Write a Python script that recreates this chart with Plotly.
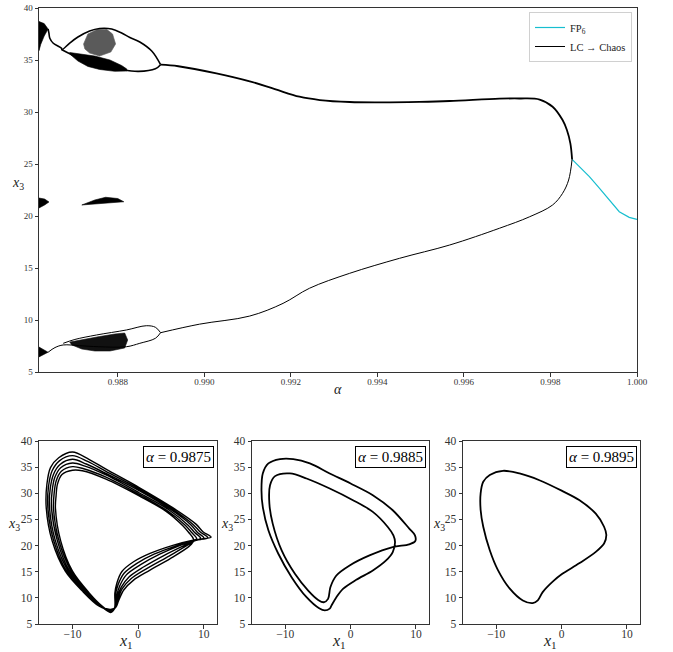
import plotly.graph_objects as go

# ---------------- data: bifurcation diagram (alpha, x3) ----------------
fp6_alpha = [0.99850, 0.99869, 0.99890, 0.99910, 0.99929, 0.99945, 0.99959, 0.99982, 1.00000]
fp6_x3 = [25.45, 24.68, 23.78, 22.82, 21.86, 21.06, 20.41, 19.87, 19.68]

lc_upper = [(0.98899, 34.55), (0.98940, 34.40), (0.99028, 33.72), (0.99105, 32.95), (0.99163, 32.20),
            (0.99220, 31.47), (0.99267, 31.15), (0.99336, 30.96), (0.99412, 30.93), (0.99497, 30.98),
            (0.99567, 31.06), (0.99682, 31.28), (0.99728, 31.30), (0.99775, 31.20), (0.99805, 30.51),
            (0.99828, 29.23), (0.99838, 28.27), (0.99846, 26.99), (0.99850, 25.45)]
lc_lower = [(0.99850, 25.45), (0.99842, 23.46), (0.99828, 22.18), (0.99805, 21.06), (0.99752, 19.93),
            (0.99682, 18.82), (0.99567, 17.21), (0.99451, 15.93), (0.99336, 14.49), (0.99243, 13.05),
            (0.99182, 11.60), (0.99105, 10.38), (0.98989, 9.60), (0.98899, 8.78)]

# period-2 loop, upper region (with connector to the left wedge)
p2_top_upper = [(0.98639, 37.98), (0.98641, 37.57), (0.98643, 37.09), (0.98651, 36.61), (0.98670, 36.13),
                (0.98671, 35.99), (0.98689, 36.63), (0.98708, 37.21), (0.98735, 37.79), (0.98758, 38.03),
                (0.98786, 37.98), (0.98809, 37.60), (0.98828, 37.16), (0.98851, 36.73), (0.98879, 35.84),
                (0.98899, 34.55)]
p2_top_lower = [(0.98671, 35.99), (0.98694, 35.51), (0.98741, 34.71), (0.98810, 34.07), (0.98848, 33.91),
                (0.98887, 34.16), (0.98899, 34.55)]
# period-2 loop, lower region
p2_bot_upper = [(0.98899, 8.78), (0.98887, 9.30), (0.98866, 9.45), (0.98820, 9.04), (0.98751, 8.56),
                (0.98701, 8.13), (0.98674, 7.76)]
p2_bot_lower = [(0.98899, 8.78), (0.98887, 8.24), (0.98851, 7.76), (0.98820, 7.43), (0.98756, 7.43),
                (0.98712, 7.53), (0.98674, 7.60), (0.98655, 7.35), (0.98639, 6.90)]

# chaotic bands (outlines)
band_wedge_top = [(0.98618, 38.70), (0.98630, 38.50), (0.98639, 37.98), (0.98630, 37.30), (0.98622, 36.50), (0.98618, 35.90)]
band_grey_top = [(0.98721, 36.54), (0.98731, 37.50), (0.98752, 37.93), (0.98775, 37.93), (0.98788, 37.50),
                 (0.98795, 36.54), (0.98784, 35.77), (0.98758, 35.38), (0.98735, 35.67), (0.98724, 36.06)]
band_top_lower = [(0.98689, 35.72), (0.98717, 35.53), (0.98747, 35.38), (0.98782, 35.00), (0.98809, 34.47),
                  (0.98821, 34.13), (0.98821, 33.94), (0.98793, 33.91), (0.98758, 34.09), (0.98731, 34.38),
                  (0.98708, 34.90), (0.98689, 35.58)]
band_mid_left = [(0.98618, 21.73), (0.98631, 21.63), (0.98641, 21.35), (0.98631, 21.06), (0.98618, 20.77)]
band_mid_spindle = [(0.98717, 21.06), (0.98747, 21.54), (0.98772, 21.80), (0.98800, 21.68), (0.98814, 21.37),
                    (0.98770, 21.25)]
band_wedge_bot = [(0.98618, 7.40), (0.98639, 6.90), (0.98618, 6.45)]
band_bot = [(0.98689, 7.88), (0.98724, 8.17), (0.98758, 8.41), (0.98793, 8.65), (0.98816, 8.75), (0.98823, 8.08),
            (0.98816, 7.31), (0.98782, 7.02), (0.98747, 7.02), (0.98717, 7.21), (0.98694, 7.60)]

alpha_ticks = [0.988, 0.990, 0.992, 0.994, 0.996, 0.998, 1.000]
alpha_tick_text = ["0.988", "0.990", "0.992", "0.994", "0.996", "0.998", "1.000"]
x3_ticks = [5, 10, 15, 20, 25, 30, 35, 40]
x1_ticks = [-10, 0, 10]
x1_tick_text = ["\u221210", "0", "10"]

# ---------------- data: phase portraits (x1, x3) ----------------
chaos_f00 = [(-4.2, 7.8), (-3.4, 8.2), (-3.0, 9.4), (-2.2, 11.5), (-0.7, 13.4), (1.8, 15.3), (5.4, 17.9), (7.7, 19.8),
             (8.3, 20.6), (8.4, 21.3), (7.7, 22.5), (6.8, 23.8), (4.2, 26.6), (0.15, 29.5), (-4.9, 32.7), (-8.5, 34.3),
             (-10.0, 34.4), (-11.6, 33.6), (-12.3, 31.7), (-12.5, 29.5), (-12.6, 27.25), (-11.8, 20.9), (-10.0, 15.1),
             (-7.5, 11.0), (-5.5, 8.45)]
chaos_f02 = [(-4.2, 7.7), (-3.45, 8.15), (-3.1, 9.7), (-2.4, 11.8), (-1.05, 13.7), (1.3, 15.6), (4.7, 18.0), (7.2, 19.85),
             (8.35, 20.7), (8.9, 21.35), (8.15, 22.5), (7.2, 23.85), (4.4, 26.7), (0.15, 29.8), (-4.9, 33.1), (-8.3, 34.7),
             (-10.0, 35.1), (-11.7, 34.2), (-12.5, 32.3), (-12.8, 29.9), (-12.9, 27.25), (-12.05, 20.9), (-10.2, 15.1),
             (-7.7, 11.05), (-5.6, 8.45)]
chaos_f04 = [(-4.2, 7.55), (-3.5, 8.1), (-3.2, 10.0), (-2.6, 12.0), (-1.4, 14.0), (0.8, 15.9), (3.9, 18.1), (6.8, 19.9),
             (8.4, 20.8), (9.5, 21.4), (8.6, 22.5), (7.6, 23.9), (4.6, 26.9), (0.15, 30.1), (-4.9, 33.5), (-8.1, 35.2),
             (-10.0, 35.8), (-11.8, 34.9), (-12.7, 33.0), (-13.1, 30.4), (-13.2, 27.25), (-12.3, 20.9), (-10.45, 15.1),
             (-7.9, 11.1), (-5.7, 8.45)]
chaos_f06 = [(-4.2, 7.45), (-3.5, 8.1), (-3.3, 10.3), (-2.8, 12.3), (-1.8, 14.4), (0.3, 16.3), (3.2, 18.3), (6.3, 20.0),
             (8.45, 20.9), (10.0, 21.45), (9.0, 22.55), (8.0, 24.0), (4.85, 27.0), (0.15, 30.5), (-4.9, 33.8), (-7.9, 35.6),
             (-10.0, 36.5), (-11.9, 35.5), (-12.9, 33.6), (-13.4, 30.8), (-13.5, 27.25), (-12.6, 20.9), (-10.65, 15.1),
             (-8.1, 11.2), (-5.8, 8.45)]
chaos_f08 = [(-4.2, 7.3), (-3.55, 8.05), (-3.45, 10.6), (-3.05, 12.55), (-2.15, 14.7), (-0.2, 16.6), (2.5, 18.4), (5.9, 20.0),
             (8.5, 21.0), (10.6, 21.5), (9.45, 22.6), (8.4, 24.0), (5.05, 27.1), (0.15, 30.8), (-4.9, 34.2), (-7.7, 36.1),
             (-10.0, 37.2), (-12.0, 36.2), (-13.1, 34.3), (-13.65, 31.3), (-13.75, 27.25), (-12.85, 20.9), (-10.9, 15.1),
             (-8.3, 11.25), (-5.9, 8.45)]
chaos_f10 = [(-4.2, 7.2), (-3.6, 8.0), (-3.55, 10.9), (-3.25, 12.8), (-2.5, 15.0), (-0.7, 16.9), (1.8, 18.5), (5.4, 20.1),
             (8.5, 21.1), (11.1, 21.6), (9.9, 22.6), (8.8, 24.1), (5.25, 27.25), (0.15, 31.1), (-4.9, 34.6), (-7.5, 36.5),
             (-10.0, 37.9), (-12.1, 36.8), (-13.35, 34.9), (-13.9, 31.7), (-14.0, 27.25), (-13.1, 20.9), (-11.1, 15.1),
             (-8.5, 11.3), (-6.0, 8.45)]
chaos_order = [chaos_f04, chaos_f10, chaos_f02, chaos_f08, chaos_f00, chaos_f06]

period2_orbit = [(-3.96, 7.6), (-3.2, 7.95), (-2.94, 8.52), (-2.18, 10.12), (-1.17, 11.72), (0.86, 13.45), (3.40, 15.24),
                 (5.43, 17.16), (6.45, 18.76), (6.80, 20.68), (6.55, 21.96), (5.69, 23.56), (3.40, 26.44), (0.36, 28.68),
                 (-3.2, 30.91), (-6.75, 32.83), (-9.29, 33.79), (-11.57, 33.28), (-12.34, 31.55), (-12.44, 28.04),
                 (-11.93, 24.2), (-10.56, 19.08), (-8.53, 14.6), (-6.5, 11.4), (-4.97, 9.61), (-4.11, 9.16), (-3.45, 9.8),
                 (-3.1, 12.04), (-2.18, 14.28), (-0.15, 16.2), (2.89, 18.12), (6.45, 19.72), (8.98, 20.23), (9.9, 20.87),
                 (9.85, 21.96), (8.98, 23.24), (6.45, 26.76), (3.40, 29.64), (0.0, 31.87), (-3.2, 33.79), (-6.24, 35.71),
                 (-8.78, 36.55), (-10.81, 36.55), (-12.59, 35.71), (-13.45, 33.79), (-13.65, 30.6), (-13.45, 27.4),
                 (-12.59, 22.92), (-11.07, 18.44), (-9.04, 13.96), (-6.75, 10.12), (-4.82, 8.0), (-3.96, 7.6)]

period1_orbit = [(-8.98, 34.3), (-11.0, 33.5), (-12.0, 32.2), (-12.4, 30.0), (-12.4, 26.8), (-12.0, 23.6), (-11.0, 19.1),
                 (-9.75, 15.3), (-7.97, 11.8), (-5.94, 9.5), (-4.42, 9.0), (-3.65, 9.5), (-2.9, 11.1), (-1.37, 13.1),
                 (0.0, 14.5), (2.69, 16.6), (5.23, 18.8), (6.5, 20.4), (6.85, 22.0), (6.5, 23.6), (5.23, 26.1),
                 (2.69, 28.7), (0.0, 30.5), (-3.4, 32.5), (-6.45, 33.8), (-8.98, 34.3)]

panel_labels = ["0.9875", "0.9885", "0.9895"]

# ---------------- figure ----------------
W, H = 673, 652
FONT = "Liberation Serif"
TXT = "#222222"


def xs(pts):
    return [p[0] for p in pts]


def ys(pts):
    return [p[1] for p in pts]


fig = go.Figure()

fig.add_trace(go.Scatter(x=fp6_alpha, y=fp6_x3, mode="lines", name="FP<sub>6</sub>",
                         line=dict(color="#17becf", width=1.2), xaxis="x", yaxis="y"))
# legend-only entry for the LC branch (thin line sample as in the reference legend)
fig.add_trace(go.Scatter(x=[None], y=[None], mode="lines", name="LC \u2192 Chaos",
                         line=dict(color="black", width=1.0), xaxis="x", yaxis="y"))

for poly, col in [(band_wedge_top, "black"), (band_grey_top, "#5a5a5a"), (band_top_lower, "black"),
                  (band_mid_left, "black"), (band_mid_spindle, "black"), (band_wedge_bot, "black"),
                  (band_bot, "#111111")]:
    fig.add_trace(go.Scatter(x=xs(poly) + [poly[0][0]], y=ys(poly) + [poly[0][1]], mode="lines",
                             fill="toself", fillcolor=col, line=dict(color=col, width=0.6),
                             showlegend=False, hoverinfo="skip", xaxis="x", yaxis="y"))

for seg, wd in [(lc_upper, 1.8), (lc_lower, 1.0), (p2_top_upper, 1.6), (p2_top_lower, 1.6),
                (p2_bot_upper, 1.0), (p2_bot_lower, 1.0)]:
    fig.add_trace(go.Scatter(x=xs(seg), y=ys(seg), mode="lines", showlegend=False,
                             line=dict(color="black", width=wd, shape="spline"), xaxis="x", yaxis="y"))

chaos_path = [p for loop in chaos_order for p in loop] + [chaos_order[0][0]]
for pts, ax, wd in [(chaos_path, "2", 1.4), (period2_orbit, "3", 1.8), (period1_orbit, "4", 1.8)]:
    fig.add_trace(go.Scatter(x=xs(pts), y=ys(pts), mode="lines", showlegend=False,
                             line=dict(color="black", width=wd, shape="spline", smoothing=0.9),
                             xaxis="x" + ax, yaxis="y" + ax))


def dom_x(a, b):
    return [a / W, b / W]


def dom_y(top, bottom):
    return [1 - bottom / H, 1 - top / H]


axis_common = dict(showline=True, mirror=True, linecolor="#333333", linewidth=1, showgrid=False,
                   zeroline=False, ticks="outside", ticklen=3.5, tickwidth=0.8, tickcolor="#333333",
                   automargin=False)

fig.update_layout(
    width=W, height=H, margin=dict(l=0, r=0, t=0, b=0, pad=0, autoexpand=False),
    paper_bgcolor="white", plot_bgcolor="white",
    font=dict(family=FONT, color=TXT),
    xaxis=dict(domain=dom_x(39, 637), range=[0.98618, 1.0], tickvals=alpha_ticks, ticktext=alpha_tick_text,
               tickfont=dict(size=9, color="#333333"), anchor="y", ticklabelstandoff=-2, **axis_common),
    yaxis=dict(domain=dom_y(8, 372), range=[5, 40], tickvals=x3_ticks,
               tickfont=dict(size=9, color="#333333"), anchor="x", **axis_common),
    legend=dict(x=632 / W, y=1 - 12 / H, xanchor="right", yanchor="top", bgcolor="white",
                bordercolor="#d0d0d0", borderwidth=1, font=dict(size=10.5, family=FONT, color=TXT),
                itemwidth=30, tracegroupgap=0),
)

panels = [("2", 39, 217), ("3", 252, 429), ("4", 463, 640)]
for ax, a, b in panels:
    fig.update_layout({
        "xaxis" + ax: dict(domain=dom_x(a, b), range=[-15.1, 12.0], tickvals=x1_ticks, ticktext=x1_tick_text,
                           tickfont=dict(size=11.5, color="#333333"), anchor="y" + ax, ticklabelstandoff=-4,
                           **axis_common),
        "yaxis" + ax: dict(domain=dom_y(441, 624), range=[5, 40], tickvals=x3_ticks,
                           tickfont=dict(size=11.5, color="#333333"), anchor="x" + ax, **axis_common),
    })


def label(text, px, py, size):
    return dict(text=text, x=px / W, y=1 - py / H, xref="paper", yref="paper", showarrow=False,
                xanchor="center", yanchor="middle", font=dict(size=size, family=FONT, color=TXT))


ann = [label("<i>α</i>", 338, 389, 14), label("<i>x</i><sub>3</sub>", 18, 184, 14)]
for (ax, a, b), lab, ylx in zip(panels, panel_labels, [14, 227, 439]):
    ann.append(dict(text="<i>α</i> = " + lab, xref="x" + ax + " domain", yref="y" + ax + " domain",
                    x=0.985, y=0.972, xanchor="right", yanchor="top", showarrow=False,
                    bordercolor="black", borderwidth=1, borderpad=2, bgcolor="white",
                    font=dict(size=15, family=FONT, color="black")))
    ann.append(label("<i>x</i><sub>1</sub>", (a + b) / 2 - 2, 641, 16))
    ann.append(label("<i>x</i><sub>3</sub>", ylx, 524, 14))
fig.update_layout(annotations=ann)

fig.write_html("out.html", config={"displayModeBar": False},
               post_script="document.body.style.margin='0';document.body.style.overflow='hidden';")
